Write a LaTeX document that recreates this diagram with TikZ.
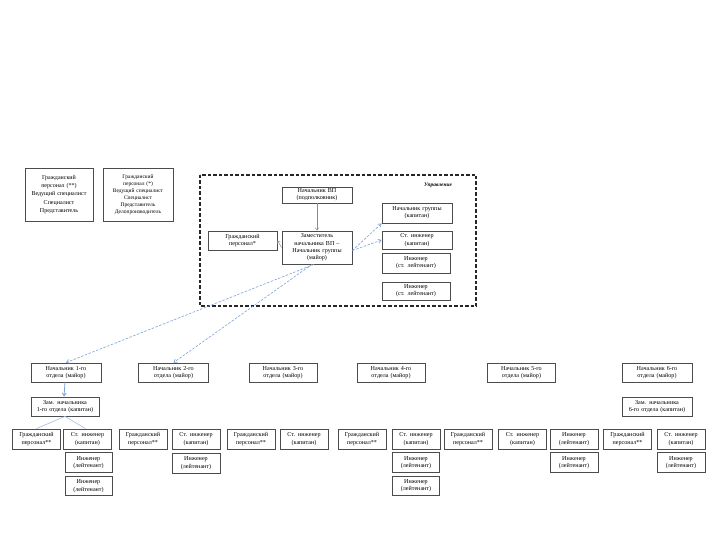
\documentclass[tikz,border=0pt]{standalone}
\usepackage{fontspec}
\setmainfont{Liberation Serif}
\usetikzlibrary{arrows.meta}
\definecolor{lnk}{HTML}{7F9FD8}
\tikzset{
  bx/.style 2 args={draw=black!70, line width=0.8pt, fill=white, inner sep=0.5pt,
    align=center, font=\fontsize{6.1}{7.3}\selectfont,
    minimum width=#1pt, minimum height=#2pt, text width=#1pt-2pt},
  lk/.style={draw=lnk, dashed, dash pattern=on 2.5pt off 1.5pt, line width=0.6pt, -{Straight Barb[length=3pt,width=4pt]}},
  lks/.style={draw=lnk, line width=0.8pt, -{Straight Barb[length=3pt,width=4pt]}},
  gl/.style={draw=black!45, line width=0.5pt, -{Straight Barb[length=2.5pt,width=3.5pt]}},
  bl/.style={draw=lnk!70, line width=0.6pt}
}
\begin{document}
\begin{tikzpicture}[x=1pt,y=-1pt]
\useasboundingbox[fill=white] (0,0) rectangle (720,540);
% top-left legends
\node[bx={68}{53}, font=\fontsize{6}{8.2}\selectfont] (tl1) at (59,194.5) {Гражданский\\персонал (**)\\Ведущий специалист\\Специалист\\Представитель};
\node[bx={70}{53}, font=\fontsize{5.5}{7}\selectfont] (tl2) at (138,194.5) {Гражданский\\персонал (*)\\Ведущий специалист\\Специалист\\Представитель\\Делопроизводитель};
% management frame
\draw[black!85, line width=1.3pt, dash pattern=on 3.5pt off 2pt] (200,175) rectangle (476,306);
\node[font=\fontsize{5.4}{6}\selectfont\bfseries\itshape] (upr) at (438,185) {Управление};
\node[bx={70}{16}] (nvp) at (317,195) {Начальник ВП\\(подполковник)};
\node[bx={70}{33}] (zam) at (317,247.5) {Заместитель\\начальника ВП --\\Начальник группы\\(майор)};
\node[bx={69}{19}] (gp) at (242.5,240.5) {Гражданский\\персонал*};
\node[bx={70}{20}] (ngr) at (417,213) {Начальник группы\\(капитан)};
\node[bx={70}{18}] (sti) at (417,240) {Ст. инженер\\(капитан)};
\node[bx={68}{20}] (inj1) at (416,263) {Инженер\\(ст. лейтенант)};
\node[bx={68}{18}] (inj2) at (416,291) {Инженер\\(ст. лейтенант)};
% level 1
\node[bx={70}{19}] (n1) at (66,372.5) {Начальник 1-го\\отдела (майор)};
\node[bx={70}{19}] (n2) at (173.5,372.5) {Начальник 2-го\\отдела (майор)};
\node[bx={68}{19}] (n3) at (283,372.5) {Начальник 3-го\\отдела (майор)};
\node[bx={68}{19}] (n4) at (391,372.5) {Начальник 4-го\\отдела (майор)};
\node[bx={68}{19}] (n5) at (521.5,372.5) {Начальник 5-го\\отдела (майор)};
\node[bx={70}{19}] (n6) at (657,372.5) {Начальник 6-го\\отдела (майор)};
% level 2
\node[bx={68}{19}] (z1) at (65,406.5) {Зам. начальника\\1-го отдела (капитан)};
\node[bx={70}{19}] (z6) at (657,406.5) {Зам. начальника\\6-го отдела (капитан)};
% level 3
\node[bx={48}{20}] (g1) at (36.5,439) {Гражданский\\персонал**};
\node[bx={48}{20}] (s1) at (87.5,439) {Ст. инженер\\(капитан)};
\node[bx={48}{20}] (g2) at (143,439) {Гражданский\\персонал**};
\node[bx={48}{20}] (s2) at (196,439) {Ст. инженер\\(капитан)};
\node[bx={48}{20}] (g3) at (251,439) {Гражданский\\персонал**};
\node[bx={48}{20}] (s3) at (304,439) {Ст. инженер\\(капитан)};
\node[bx={48}{20}] (g4) at (362,439) {Гражданский\\персонал**};
\node[bx={48}{20}] (s4) at (416,439) {Ст. инженер\\(капитан)};
\node[bx={48}{20}] (g5) at (468,439) {Гражданский\\персонал**};
\node[bx={48}{20}] (s5) at (522.5,439) {Ст. инженер\\(капитан)};
\node[bx={48}{20}] (i5a) at (574,439) {Инженер\\(лейтенант)};
\node[bx={48}{20}] (g6) at (627.5,439) {Гражданский\\персонал**};
\node[bx={48}{20}] (s6) at (681,439) {Ст. инженер\\(капитан)};
% level 4
\node[bx={47}{20}] (i1a) at (88.5,462.5) {Инженер\\(лейтенант)};
\node[bx={48}{20}] (i2) at (196,463) {Инженер\\(лейтенант)};
\node[bx={47}{20}] (i4a) at (416,462.5) {Инженер\\(лейтенант)};
\node[bx={48}{20}] (i5b) at (574,462.5) {Инженер\\(лейтенант)};
\node[bx={48}{20}] (i6) at (681,462.5) {Инженер\\(лейтенант)};
% level 5
\node[bx={47}{19}] (i1b) at (88.5,486) {Инженер\\(лейтенант)};
\node[bx={47}{19}] (i4b) at (416,485.5) {Инженер\\(лейтенант)};
% connectors
\draw[gl] (nvp) -- (zam);
\draw[gl] (zam.west) -- (gp.east);
\draw[lk] ([yshift=-3pt]zam.east) -- (ngr.south west);
\draw[lk] ([yshift=-3pt]zam.east) -- (sti.west);
\draw[lk] ([xshift=-3pt]zam.south) -- (n1.north);
\draw[lk] ([xshift=-5pt]zam.south) -- (n2.north);
\draw[lks] ([xshift=-1pt]n1.south) -- ([xshift=-1pt]z1.north);
\draw[bl] (z1.south) -- (g1.north);
\draw[bl] (z1.south) -- ([xshift=-2pt]s1.north);
\end{tikzpicture}
\end{document}
